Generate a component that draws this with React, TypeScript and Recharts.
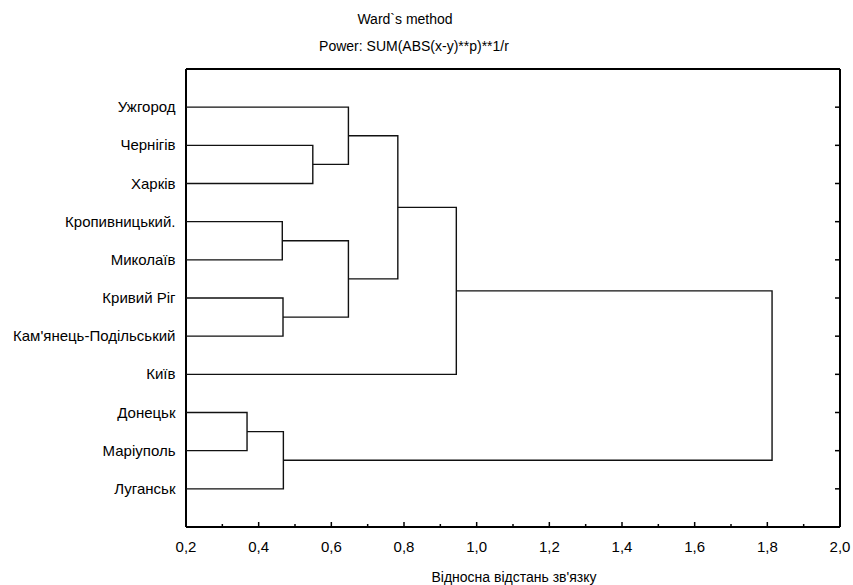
import { ComposedChart, Scatter, XAxis, YAxis } from "recharts"

const leaves = [
  "Ужгород",
  "Чернігів",
  "Харків",
  "Кропивницький.",
  "Миколаїв",
  "Кривий Ріг",
  "Кам'янець-Подільський",
  "Київ",
  "Донецьк",
  "Маріуполь",
  "Луганськ",
]

// merges in order; ids 0..10 are leaves, merge k gets id 11 + k
const mergeLeft = [8, 3, 5, 11, 1, 0, 12, 16, 18, 19]
const mergeRight = [9, 4, 6, 10, 2, 15, 13, 17, 7, 14]
const mergeHeight = [0.368, 0.465, 0.467, 0.468, 0.549, 0.647, 0.647, 0.783, 0.944, 1.813]

const xTicks = [0.2, 0.3, 0.4, 0.5, 0.6, 0.7, 0.8, 0.9, 1.0, 1.1, 1.2, 1.3, 1.4, 1.5, 1.6, 1.7, 1.8, 1.9, 2.0]
const rowTicks = [1, 2, 3, 4, 5, 6, 7, 8, 9, 10, 11]

const X_MIN = 0.2
const W = 853
const H = 585
const M = { top: 68, right: 12, bottom: 18, left: 6 }
const Y_AXIS_W = 180
const RIGHT_W = 1
const TOP_H = 1
const X_AXIS_H = 40
const PLOT_TOP = M.top + TOP_H
const PLOT_BOTTOM = H - M.bottom - X_AXIS_H
const PLOT_RIGHT = W - M.right - RIGHT_W
const font = "'Liberation Sans', Arial, sans-serif"
const axisStyle = { stroke: "#000", strokeWidth: 2 }

// positions of every node (leaf or merge) in data units
const nodes: { x: number; y: number }[] = leaves.map((_, i) => ({ x: X_MIN, y: i + 1 }))
mergeHeight.forEach((h, k) => {
  const a = nodes[mergeLeft[k]]
  const b = nodes[mergeRight[k]]
  nodes.push({ x: h, y: (a.y + b.y) / 2 })
})

const links = mergeHeight.map((h, k) => {
  const a = nodes[mergeLeft[k]]
  const b = nodes[mergeRight[k]]
  return [
    { x: a.x, y: a.y },
    { x: h, y: a.y },
    { x: h, y: b.y },
    { x: b.x, y: b.y },
  ]
})

const fmt = (v: number) => v.toFixed(1).replace(".", ",")
const isMajor = (v: number) => Math.round(v * 10) % 2 === 0

const BottomTick = (props: any) => {
  const { x, payload } = props
  const v = payload.value
  return (
    <g>
      <line x1={x} x2={x} y1={PLOT_BOTTOM} y2={PLOT_BOTTOM - (isMajor(v) ? 5 : 3)} stroke="#000" strokeWidth={1.5} />
      {isMajor(v) && (
        <text x={x} y={PLOT_BOTTOM + 25} textAnchor="middle" fontSize={15} fill="#000" fontFamily={font}>
          {fmt(v)}
        </text>
      )}
    </g>
  )
}

const TopTick = (props: any) => {
  const { x } = props
  return <line x1={x} x2={x} y1={PLOT_TOP} y2={PLOT_TOP + 3} stroke="#000" strokeWidth={1.5} />
}

const LeftTick = (props: any) => {
  const { y, payload } = props
  return (
    <text x={M.left + Y_AXIS_W - 10.5} y={y} dy={5} textAnchor="end" fontSize={15} fill="#000" fontFamily={font}>
      {leaves[payload.value - 1]}
    </text>
  )
}

const RightTick = (props: any) => {
  const { y } = props
  return <line x1={PLOT_RIGHT} x2={PLOT_RIGHT - 5} y1={y} y2={y} stroke="#000" strokeWidth={1.5} />
}

export default function App() {
  return (
    <div style={{ position: "relative", width: W, height: H, background: "#fff" }}>
      <style>{"body{margin:0}"}</style>
      <div
        style={{ position: "absolute", left: 305, width: 200, top: 11, textAlign: "center", fontFamily: font, fontSize: 14, lineHeight: "16px" }}
      >
        Ward`s method
      </div>
      <div
        style={{ position: "absolute", left: 264, width: 300, top: 38, textAlign: "center", fontFamily: font, fontSize: 14, lineHeight: "16px" }}
      >
        Power: SUM(ABS(x-y)**p)**1/r
      </div>
      <div
        style={{ position: "absolute", left: 364, width: 300, top: 569, textAlign: "center", fontFamily: font, fontSize: 14, lineHeight: "16px" }}
      >
        Відносна відстань зв'язку
      </div>
      <ComposedChart width={W} height={H} margin={M}>
        <XAxis
          xAxisId="b"
          type="number"
          dataKey="x"
          domain={[0.2, 2.0]}
          ticks={xTicks}
          interval={0}
          height={X_AXIS_H}
          tickSize={0}
          tick={BottomTick}
          axisLine={axisStyle}
          allowDataOverflow
        />
        <XAxis
          xAxisId="t"
          orientation="top"
          type="number"
          domain={[0.2, 2.0]}
          ticks={xTicks}
          interval={0}
          height={TOP_H}
          tickSize={0}
          tick={TopTick}
          axisLine={axisStyle}
          allowDataOverflow
        />
        <YAxis
          yAxisId="l"
          type="number"
          dataKey="y"
          domain={[0, 12]}
          reversed
          ticks={rowTicks}
          interval={0}
          width={Y_AXIS_W}
          tickSize={0}
          tick={LeftTick}
          axisLine={axisStyle}
          allowDataOverflow
        />
        <YAxis
          yAxisId="r"
          orientation="right"
          type="number"
          domain={[0, 12]}
          reversed
          ticks={rowTicks}
          interval={0}
          width={RIGHT_W}
          tickSize={0}
          tick={RightTick}
          axisLine={axisStyle}
          allowDataOverflow
        />
        {links.map((pts, i) => (
          <Scatter
            key={i}
            xAxisId="b"
            yAxisId="l"
            data={pts}
            line={{ stroke: "#111", strokeWidth: 1.4 }}
            lineType="joint"
            shape={() => <g />}
            legendType="none"
            isAnimationActive={false}
          />
        ))}
      </ComposedChart>
    </div>
  )
}
